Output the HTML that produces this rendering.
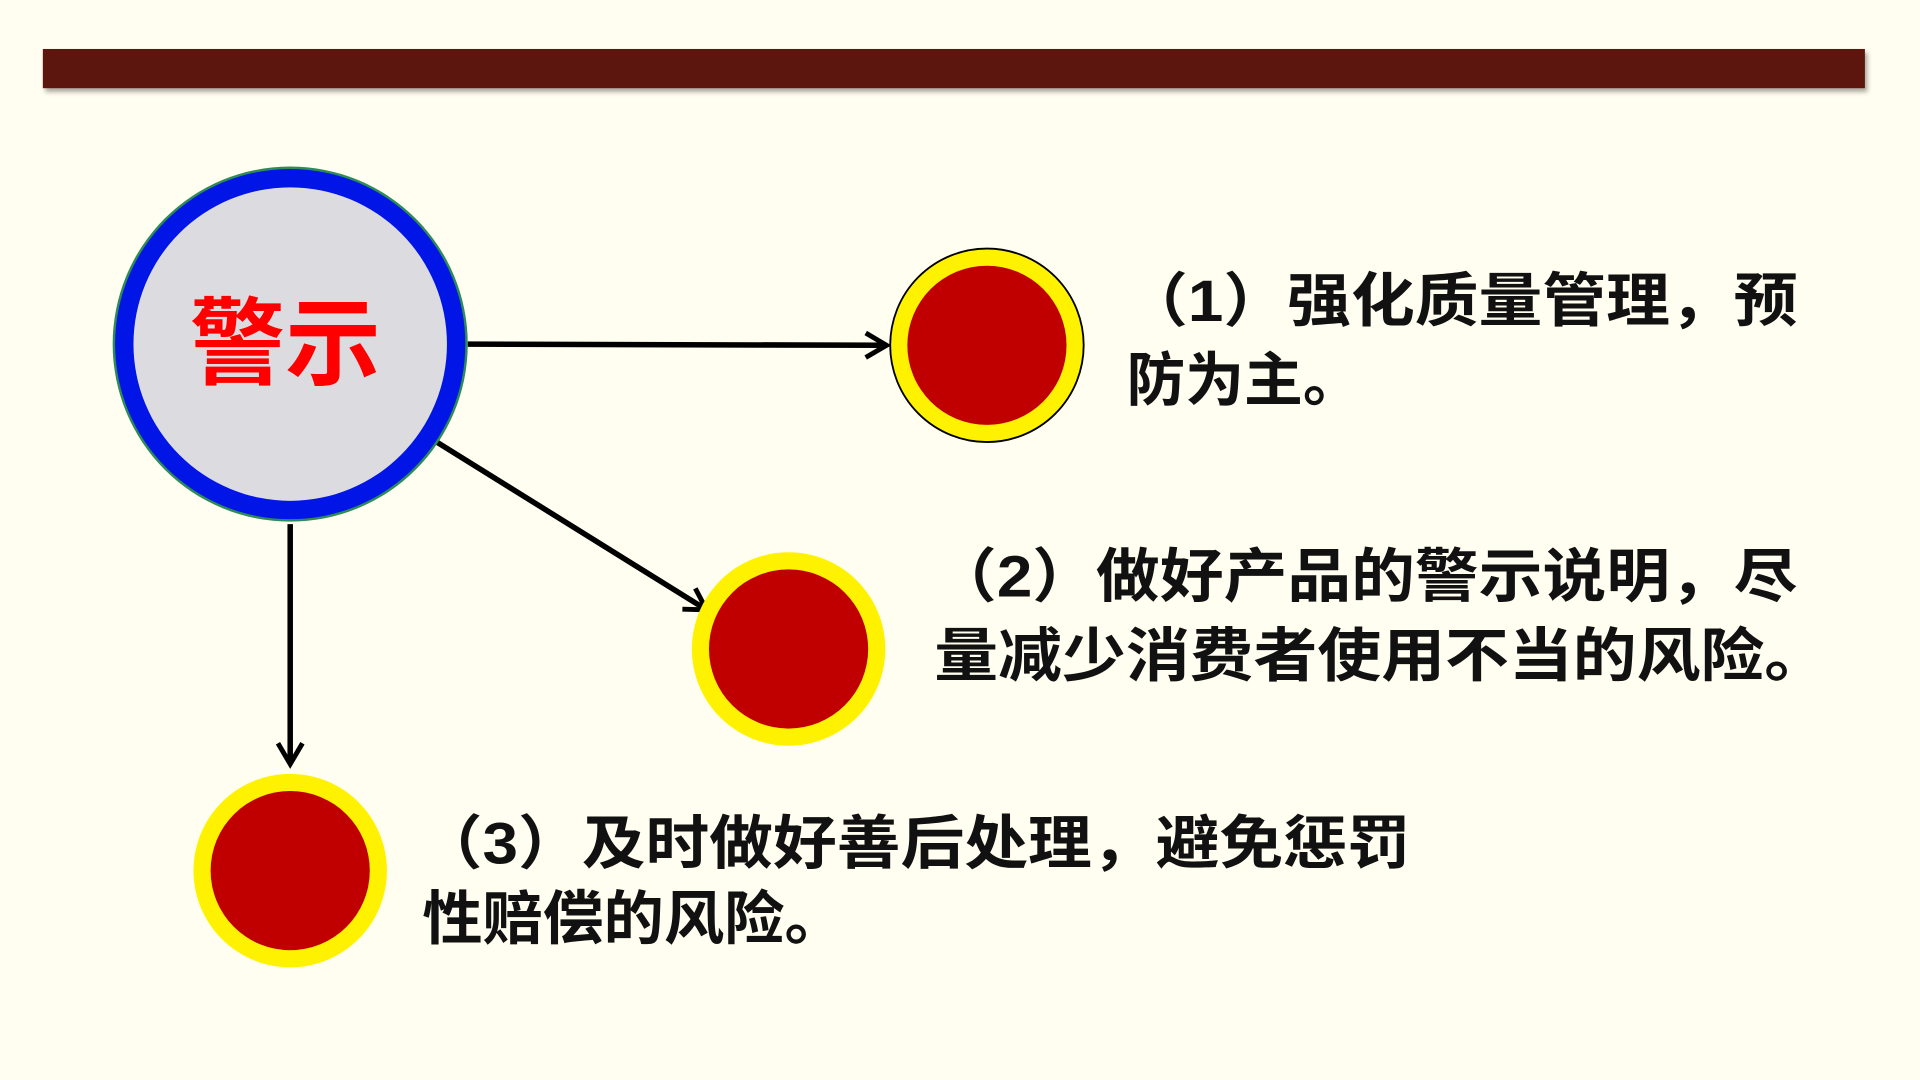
<!DOCTYPE html>
<html><head><meta charset="utf-8"><style>html,body{margin:0;padding:0;background:#FFFEF0;}svg{display:block}</style></head>
<body>
<svg width="1920" height="1080" viewBox="0 0 1568 882" preserveAspectRatio="none" xmlns="http://www.w3.org/2000/svg">
<defs>
<filter id="sh" x="-5%" y="-50%" width="110%" height="200%"><feDropShadow dx="2" dy="3" stdDeviation="2" flood-color="#000" flood-opacity="0.35"/></filter>
<marker id="ar" markerWidth="24" markerHeight="24" refX="20" refY="12" orient="auto" markerUnits="userSpaceOnUse" viewBox="0 0 24 24"><path d="M3,2 L20,12 L3,22" fill="none" stroke="#000" stroke-width="4"/></marker>
</defs>
<rect width="1568" height="882" fill="#FFFEF0"/>
<rect x="35" y="40" width="1488" height="32" fill="#5C1209" filter="url(#sh)"/>
<line x1="382" y1="281" x2="724" y2="282" stroke="#000" stroke-width="4.5" marker-end="url(#ar)"/>
<line x1="347" y1="355" x2="577" y2="498" stroke="#000" stroke-width="4.5" marker-end="url(#ar)"/>
<line x1="237" y1="428" x2="237" y2="624" stroke="#000" stroke-width="4.5" marker-end="url(#ar)"/>
<circle cx="237" cy="281" r="145" fill="#2E8B57"/>
<circle cx="237" cy="281" r="143" fill="#0015E6"/>
<circle cx="237" cy="281" r="128" fill="#DCDCE0"/>
<text x="233" y="308" text-anchor="middle" font-family="'Liberation Sans','Noto Sans CJK SC',sans-serif" font-weight="bold" font-size="78" fill="#FF0000">警示</text>
<circle cx="806" cy="282" r="79" fill="#FFF200" stroke="#000" stroke-width="1.5"/>
<circle cx="644" cy="530" r="79" fill="#FFF200"/>
<circle cx="237" cy="711" r="79" fill="#FFF200"/>
<circle cx="806" cy="282" r="65" fill="#C00000"/>
<circle cx="644" cy="530" r="65" fill="#C00000"/>
<circle cx="237" cy="711" r="65" fill="#C00000"/>
<g font-family="'Liberation Sans','Noto Sans CJK SC',sans-serif" font-weight="bold" font-size="48" fill="#111">
<text x="918" y="262" textLength="550" lengthAdjust="spacingAndGlyphs">（1）强化质量管理，预</text>
<text x="920" y="327">防为主。</text>
<text x="762" y="487" textLength="706" lengthAdjust="spacingAndGlyphs">（2）做好产品的警示说明，尽</text>
<text x="763" y="552" textLength="730" lengthAdjust="spacingAndGlyphs">量减少消费者使用不当的风险。</text>
<text x="342" y="705" textLength="810" lengthAdjust="spacingAndGlyphs">（3）及时做好善后处理，避免惩罚</text>
<text x="345" y="767" textLength="345" lengthAdjust="spacingAndGlyphs">性赔偿的风险。</text>
</g>
</svg>
</body></html>
